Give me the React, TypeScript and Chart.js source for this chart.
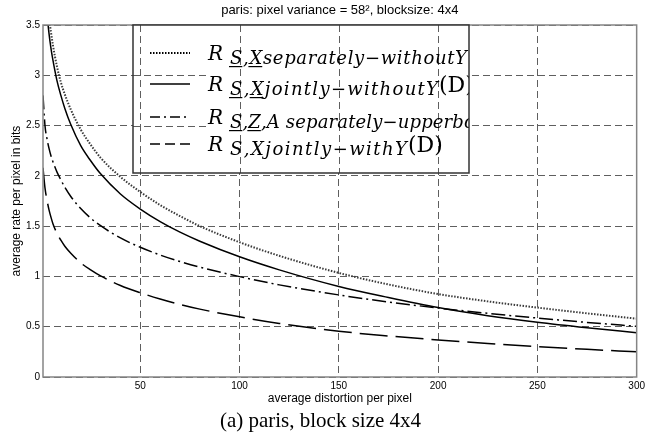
import React, { useEffect, useRef } from 'react';
import { Chart, registerables } from 'chart.js';

Chart.register(...registerables);

// ---------- data ----------
const DISTORTION = [1, 2, 3, 4, 5, 6, 8, 10, 12, 15, 20, 25, 30, 40, 50, 60, 70, 80, 100, 120, 150, 175, 200, 225, 250, 275, 300];
const SEP_WITHOUT_Y = [4.7, 4.2, 3.78, 3.58, 3.43, 3.3, 3.09, 2.93, 2.81, 2.66, 2.46, 2.31, 2.18, 1.99, 1.84, 1.71, 1.6, 1.5, 1.34, 1.205, 1.035, 0.92, 0.825, 0.752, 0.69, 0.633, 0.58];
const JOINT_WITHOUT_Y = [4.4, 3.9, 3.62, 3.42, 3.27, 3.15, 2.95, 2.8, 2.67, 2.51, 2.3, 2.15, 2.02, 1.82, 1.67, 1.545, 1.44, 1.35, 1.195, 1.065, 0.9, 0.79, 0.69, 0.61, 0.545, 0.49, 0.44];
const SEP_UPPERBOUND = [2.8, 2.5, 2.37, 2.275, 2.2, 2.14, 2.04, 1.96, 1.886, 1.795, 1.675, 1.58, 1.504, 1.383, 1.29, 1.213, 1.148, 1.092, 0.998, 0.916, 0.816, 0.746, 0.686, 0.633, 0.586, 0.543, 0.504];
const JOINT_WITH_Y = [2.08, 1.88, 1.76, 1.665, 1.59, 1.525, 1.43, 1.36, 1.3, 1.23, 1.135, 1.065, 1.005, 0.91, 0.838, 0.776, 0.722, 0.675, 0.598, 0.533, 0.455, 0.408, 0.368, 0.333, 0.302, 0.275, 0.25];

const X_TICKS = [50, 100, 150, 200, 250, 300];
const Y_TICKS = [0, 0.5, 1, 1.5, 2, 2.5, 3, 3.5];

const TITLE = 'paris: pixel variance = 58\u00B2, blocksize: 4x4';
const CAPTION = '(a) paris, block size 4x4';
const X_LABEL = 'average distortion per pixel';
const Y_LABEL = 'average rate per pixel in bits';

// legend labels: main symbol, subscript pieces (u = underlined), tail
const LEGEND_MAIN = 'R';
const LEGEND_TAIL = '(D)';
const LEGEND_SUBS = [
  [{ t: 'S', u: true }, { t: ',' }, { t: 'X', u: true }, { t: 'separately\u2212withoutY' }],
  [{ t: 'S', u: true }, { t: ',' }, { t: 'X', u: true }, { t: 'jointly\u2212withoutY' }],
  [{ t: 'S', u: true }, { t: ',' }, { t: 'Z', u: true }, { t: ',A separately\u2212upperbound' }],
  [{ t: 'S' }, { t: ',' }, { t: 'X' }, { t: 'jointly\u2212withY' }],
];

// ---------- styles ----------
const SANS = '"Liberation Sans", Arial, sans-serif';
const SERIF = '"DejaVu Serif", serif';
const CAPTION_FONT = '"Liberation Serif", "Times New Roman", serif';
const GRID_COLOR = '#5f5f5f';
const GRID_DASH = [7, 4];
const FRAME_COLOR = '#858585';

const SERIES_STYLE = [
  { color: '#3a3a3a', width: 2, dash: [1.5, 1.5], legendDash: [1.5, 1.5] },
  { color: '#000000', width: 1.5, dash: [], legendDash: [] },
  { color: '#000000', width: 1.5, dash: [14, 4, 2, 4], legendDash: [10, 4, 2, 4] },
  { color: '#000000', width: 1.5, dash: [28, 8], legendDash: [10, 5] },
];

// legend layout (relative to legend box)
const LEG_OFFSET_X = 90;
const LEG_W = 336;
const LEG_H = 148;
const ROW_BASE = [35, 66, 99, 126];
const SUB_START = 97;
const SUB_END = [334, 305, 377, 274];

const framePlugin = {
  id: 'frameAndLegend',
  afterDatasetsDraw(chart: any) {
    const { ctx, chartArea, scales } = chart;
    const ca = chartArea;
    ctx.save();
    // frame
    ctx.setLineDash([]);
    ctx.strokeStyle = FRAME_COLOR;
    ctx.lineWidth = 1.5;
    ctx.strokeRect(ca.left, ca.top, ca.right - ca.left, ca.bottom - ca.top);

    // legend box
    const L = ca.left + LEG_OFFSET_X;
    const T = ca.top;
    ctx.fillStyle = '#ffffff';
    ctx.fillRect(L, T, LEG_W, LEG_H);

    ctx.save();
    ctx.beginPath();
    ctx.rect(L, T, LEG_W, LEG_H);
    ctx.clip();
    // grid showing through
    ctx.strokeStyle = GRID_COLOR;
    ctx.lineWidth = 1;
    ctx.setLineDash(GRID_DASH);
    X_TICKS.forEach((v) => {
      const px = Math.round(scales.x.getPixelForValue(v)) + 0.5;
      ctx.beginPath();
      ctx.moveTo(px, T);
      ctx.lineTo(px, T + LEG_H);
      ctx.stroke();
    });
    Y_TICKS.forEach((v) => {
      const py = Math.round(scales.y.getPixelForValue(v)) + 0.5;
      if (py > T + 2 && py < T + LEG_H - 2) {
        ctx.beginPath();
        ctx.moveTo(L, py);
        ctx.lineTo(L + 74, py);
        ctx.stroke();
      }
    });

    // rows
    LEGEND_SUBS.forEach((pieces, i) => {
      const st = SERIES_STYLE[i];
      const base = T + ROW_BASE[i];
      const ly = base - 7;
      ctx.setLineDash(st.legendDash);
      ctx.strokeStyle = '#000';
      ctx.lineWidth = st.width;
      ctx.beginPath();
      ctx.moveTo(L + 17, ly);
      ctx.lineTo(L + 57, ly);
      ctx.stroke();
      ctx.setLineDash([]);

      ctx.fillStyle = '#000';
      ctx.textAlign = 'left';
      ctx.textBaseline = 'alphabetic';
      ctx.font = `italic 20px ${SERIF}`;
      ctx.fillText(LEGEND_MAIN, L + 75, base);

      // subscript, spread to target width
      ctx.font = `italic 18px ${SERIF}`;
      const chars: { c: string; u: boolean }[] = [];
      pieces.forEach((p: any) => {
        for (const c of p.t) chars.push({ c, u: !!p.u });
      });
      const natural = chars.reduce((s, ch) => s + ctx.measureText(ch.c).width, 0);
      const target = SUB_END[i] - SUB_START;
      const extra = (target - natural) / Math.max(1, chars.length - 1);
      let x = L + SUB_START;
      const sb = base + 4;
      chars.forEach((ch) => {
        const w = ctx.measureText(ch.c).width;
        ctx.fillText(ch.c, x, sb);
        if (ch.u) {
          ctx.fillRect(x - 1, sb + 2, w + 1, 1.2);
        }
        x += w + extra;
      });
      ctx.font = `22px ${SERIF}`;
      ctx.fillText(LEGEND_TAIL, L + SUB_END[i] + 1, base + 1);
    });
    ctx.restore();

    ctx.strokeStyle = '#333';
    ctx.lineWidth = 1.5;
    ctx.setLineDash([]);
    ctx.strokeRect(L, T, LEG_W, LEG_H);
    ctx.restore();
  },
};

export default function App() {
  const ref = useRef<HTMLCanvasElement>(null);
  useEffect(() => {
    const series = [SEP_WITHOUT_Y, JOINT_WITHOUT_Y, SEP_UPPERBOUND, JOINT_WITH_Y];
    const chart = new Chart(ref.current as HTMLCanvasElement, {
      type: 'line',
      data: {
        datasets: series.map((s, i) => ({
          label: `series ${i + 1}`,
          data: DISTORTION.map((x, k) => ({ x, y: s[k] })),
          borderColor: SERIES_STYLE[i].color,
          borderWidth: SERIES_STYLE[i].width,
          borderDash: SERIES_STYLE[i].dash,
          pointRadius: 0,
          fill: false,
          cubicInterpolationMode: 'monotone' as const,
        })),
      },
      options: {
        animation: false,
        responsive: false,
        devicePixelRatio: 1,
        layout: { padding: { left: 0, right: 7, top: 0, bottom: 0 } },
        plugins: {
          legend: { display: false },
          tooltip: { enabled: false },
          title: {
            display: true,
            text: TITLE,
            fullSize: false,
            color: '#000',
            font: { family: SANS, size: 13, weight: 'normal' as const },
            padding: { top: 3, bottom: 6.4 },
          },
          subtitle: {
            display: true,
            text: CAPTION,
            position: 'bottom' as const,
            fullSize: true,
            color: '#000',
            font: { family: CAPTION_FONT, size: 21, weight: 'normal' as const },
            padding: { top: 1.4, bottom: 5.4 },
          },
        },
        scales: {
          x: {
            type: 'linear',
            min: 1,
            max: 300,
            afterBuildTicks: (s: any) => {
              s.ticks = X_TICKS.map((v) => ({ value: v }));
            },
            afterFit: (s: any) => {
              s.height = 30;
            },
            grid: { color: GRID_COLOR, lineWidth: 1, drawTicks: false },
            border: { display: false, dash: GRID_DASH },
            ticks: { color: '#000', font: { family: SANS, size: 10 }, padding: 3, autoSkip: false, maxRotation: 0 },
            title: { display: true, text: X_LABEL, color: '#000', font: { family: SANS, size: 12 }, padding: { top: 0, bottom: 1 } },
          },
          y: {
            type: 'linear',
            min: 0,
            max: 3.5,
            afterBuildTicks: (s: any) => {
              s.ticks = Y_TICKS.map((v) => ({ value: v }));
            },
            afterFit: (s: any) => {
              s.width = 43;
            },
            grid: { color: GRID_COLOR, lineWidth: 1, drawTicks: false },
            border: { display: false, dash: GRID_DASH },
            ticks: { color: '#000', font: { family: SANS, size: 10 }, padding: 3, callback: (v: any) => String(v) },
            title: { display: true, text: Y_LABEL, color: '#000', font: { family: SANS, size: 12 }, padding: { top: 9, bottom: 0 } },
          },
        },
      } as any,
      plugins: [framePlugin],
    });
    return () => chart.destroy();
  }, []);
  return (
    <div style={{ position: 'fixed', left: 0, top: 0, width: 648, height: 439, background: '#fff' }}>
      <canvas ref={ref} width={648} height={439} style={{ display: 'block' }} />
    </div>
  );
}
